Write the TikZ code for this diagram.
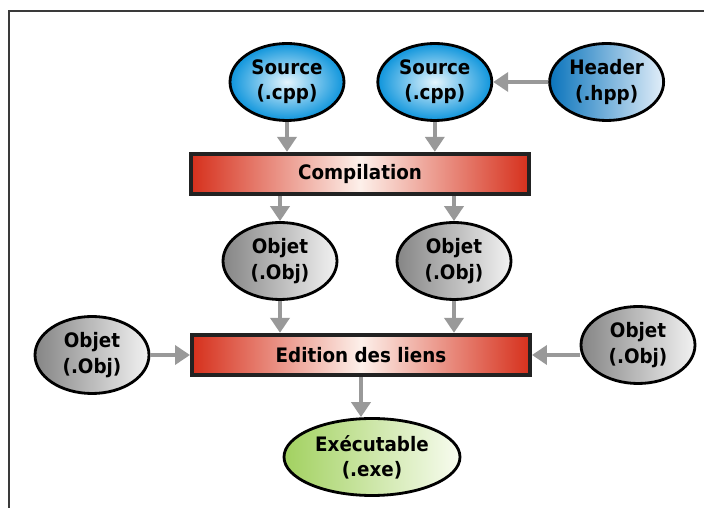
\documentclass[tikz,border=0pt]{standalone}
\usepackage{fontspec}
\setmainfont{DejaVu Sans}[FakeStretch=0.92]
\usetikzlibrary{arrows.meta,positioning,shapes.geometric}
\definecolor{BuildFrame}{HTML}{3A3A3A}
\definecolor{BuildEdge}{HTML}{222222}
\definecolor{BuildArrow}{HTML}{999999}
\definecolor{BuildBlue}{HTML}{0E95DC}
\definecolor{BuildBlueLight}{HTML}{E4F5FD}
\definecolor{BuildNavy}{HTML}{0A74BC}
\definecolor{BuildNavyLight}{HTML}{E2EEF9}
\definecolor{BuildRed}{HTML}{D6301C}
\definecolor{BuildRedLight}{HTML}{FDF0EA}
\definecolor{BuildGrey}{HTML}{858585}
\definecolor{BuildGreyLight}{HTML}{F2F2F2}
\definecolor{BuildGreen}{HTML}{A2D160}
\definecolor{BuildGreenLight}{HTML}{F8FCF0}

\begin{document}
\begin{tikzpicture}
    \tikzset{buildfile/.style={ellipse,draw=black,line width=2.4pt,minimum width=3.42cm,minimum height=2.31cm,
      inner sep=0pt,align=center,font=\fontsize{17}{21.5}\selectfont\bfseries},
      buildstep/.style={draw=BuildEdge,line width=3.4pt,minimum width=10.14cm,minimum height=1.21cm,
      left color=BuildRed,right color=BuildRed,middle color=BuildRedLight,font=\fontsize{17}{21.5}\selectfont\bfseries},
      buildarrow/.style={-{Triangle[length=0.45cm,width=0.57cm]},BuildArrow,line width=3.8pt}}
    \useasboundingbox (0,0) rectangle (21.12,15.24);
    \draw[BuildFrame,line width=0.06cm] (21.12,14.91) -- (0.27,14.91) -- (0.27,0);
    \node[buildfile,inner color=BuildBlueLight,outer color=BuildBlue] (src1) at (8.61,12.78) {Source\\(.cpp)};
    \node[buildfile,inner color=BuildBlueLight,outer color=BuildBlue,right=0.93cm of src1] (src2) {Source\\(.cpp)};
    \node[buildfile,left color=BuildNavy,right color=BuildNavyLight,right=1.65cm of src2] (hdr) {Header\\(.hpp)};
    \node[buildstep] (comp) at (10.8,10.02) {Compilation};
    \node[buildfile,left color=BuildGrey,right color=BuildGreyLight] (obj1) at (8.4,7.41) {Objet\\(.Obj)};
    \node[buildfile,left color=BuildGrey,right color=BuildGreyLight] (obj2) at (13.62,7.41) {Objet\\(.Obj)};
    \node[buildstep] (link) at (10.83,4.59) {Edition des liens};
    \node[buildfile,left color=BuildGrey,right color=BuildGreyLight] (objL) at (2.76,4.59) {Objet\\(.Obj)};
    \node[buildfile,left color=BuildGrey,right color=BuildGreyLight] (objR) at (19.14,4.89) {Objet\\(.Obj)};
    \node[buildfile,left color=BuildGreen,right color=BuildGreenLight,minimum width=5.28cm] (exe) at (11.16,1.53) {Exécutable\\(.exe)};
    \draw[buildarrow] (src1) -- (src1 |- comp.north);
    \draw[buildarrow] (src2) -- (src2 |- comp.north);
    \draw[buildarrow] (hdr) -- (src2);
    \draw[buildarrow] (obj1 |- comp.south) -- (obj1);
    \draw[buildarrow] (obj2 |- comp.south) -- (obj2);
    \draw[buildarrow] (obj1) -- (obj1 |- link.north);
    \draw[buildarrow] (obj2) -- (obj2 |- link.north);
    \draw[buildarrow] (objL) -- (link);
    \draw[buildarrow] (link.east -| objR.west) -- (link.east);
    \draw[buildarrow] (link) -- (link |- exe.north);
  \end{tikzpicture}
\end{document}
